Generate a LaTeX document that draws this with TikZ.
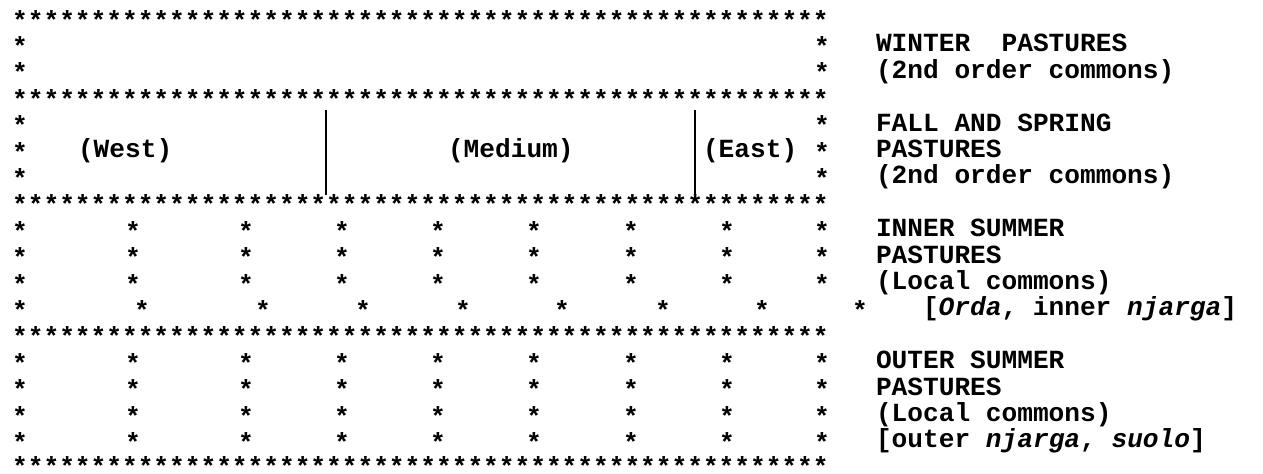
\documentclass[tikz,border=0pt]{standalone}
\usepackage{fontspec}
\newfontfamily\mono{Liberation Mono}
\newcommand\tw{\mono\bfseries\fontsize{13.085pt}{15pt}\selectfont\frenchspacing}
\newcommand\lowstar[1]{\raisebox{-5.5pt}[2pt][2pt]{#1}}
\def\tb{7.4}
\begin{document}
\begin{tikzpicture}[x=0.5pt,y=-0.5pt,
  every node/.style={inner sep=0pt,outer sep=0pt},
  txt/.style={anchor=base west,font=\tw},
  ast/.style={anchor=base,font=\tw},
  bar/.style={line width=1.2pt,draw=black}]
\useasboundingbox (0,0) rectangle (1263,473);
% full star rows (52 asterisks)
\foreach \r in {1,4,8,13}{
  \node[txt] (srow\r) at (12.15,{18+26.41*(\r-1)}) {\lowstar{****************************************************}};
}
\node[txt] (srow18) at (12.15,464.5) {\lowstar{****************************************************}};
% side stars
\foreach \r in {2,3,5,6,7}{
  \foreach \x [count=\k] in {20,822}{
    \node[ast] (s\r-\k) at (\x,{18+26.41*(\r-1)}) {\lowstar{*}};
  }
}
% pasture field stars
\foreach \r in {9,10,11,14,15,16,17}{
  \foreach \x [count=\k] in {20,133,246,342,438,534,631,727,822}{
    \node[ast] (s\r-\k) at (\x,{18+26.41*(\r-1)}) {\lowstar{*}};
  }
}
\foreach \x [count=\k] in {20,142,263,363,463,562,663,762,860}{
  \node[ast] (s12-\k) at (\x,{18+26.41*11}) {\lowstar{*}};
}
% dividers
\coordinate (d1t) at (326,110); \coordinate (d1b) at (326,195);
\coordinate (d2t) at (695,110); \coordinate (d2b) at (695,195);
\draw[bar] (d1t) -- (d1b);
\draw[bar] (d2t) -- (d2b);
% region labels
\node[txt] (west) at (78,{18+26.41*5+\tb}) {(West)};
\node[txt] (medium) at (448,{18+26.41*5+\tb}) {(Medium)};
\node[txt] (east) at (703,{18+26.41*5+\tb}) {(East)};
% legend
\node[txt] (w1) at (876,{18+26.41*1+\tb}) {WINTER\ \ PASTURES};
\node[txt] (w2) at (876,{18+26.41*2+\tb}) {(2nd order commons)};
\node[txt] (f1) at (876,{18+26.41*4+\tb}) {FALL AND SPRING};
\node[txt] (f2) at (876,{18+26.41*5+\tb}) {PASTURES};
\node[txt] (f3) at (876,{18+26.41*6+\tb}) {(2nd order commons)};
\node[txt] (i1) at (876,{18+26.41*8+\tb}) {INNER SUMMER};
\node[txt] (i2) at (876,{18+26.41*9+\tb}) {PASTURES};
\node[txt] (i3) at (876,{18+26.41*10+\tb}) {(Local commons)};
\node[txt] (i4) at (923,{18+26.41*11+\tb}) {[\textit{Orda}, inner \textit{njarga}]};
\node[txt] (o1) at (876,{18+26.41*13+\tb}) {OUTER SUMMER};
\node[txt] (o2) at (876,{18+26.41*14+\tb}) {PASTURES};
\node[txt] (o3) at (876,{18+26.41*15+\tb}) {(Local commons)};
\node[txt] (o4) at (876,{18+26.41*16+\tb}) {[outer \textit{njarga}, \textit{suolo}]};
\end{tikzpicture}
\end{document}
